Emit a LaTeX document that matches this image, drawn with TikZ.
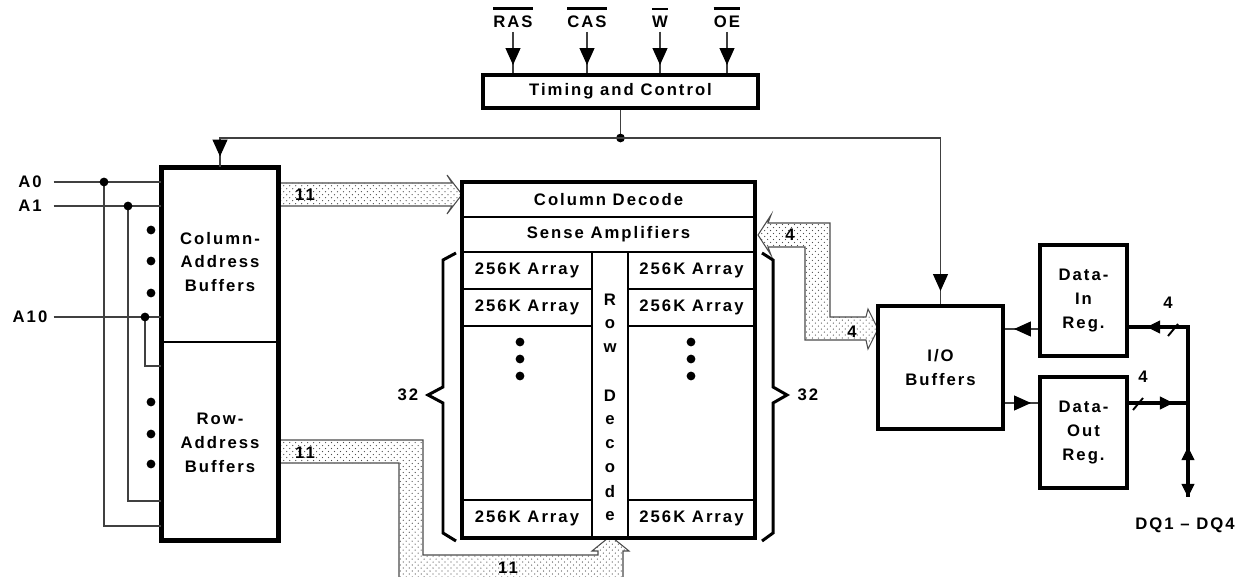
\documentclass[tikz,border=0pt]{standalone}
\usepackage{fontspec}
\setmainfont{Liberation Sans}[LetterSpace=12]
\usetikzlibrary{arrows.meta,patterns,decorations.markings}

\pgfdeclarepatternformonly{fdots}{\pgfqpoint{-0.5pt}{-0.5pt}}{\pgfqpoint{3.9pt}{3.9pt}}{\pgfqpoint{3.4pt}{3.4pt}}{%
  \pgfpathcircle{\pgfqpoint{0pt}{0pt}}{0.36pt}%
  \pgfpathcircle{\pgfqpoint{1.7pt}{1.7pt}}{0.36pt}%
  \pgfusepath{fill}}

\tikzset{
  blk/.style={draw, line width=2.3pt, fill=white, align=center, inner sep=0pt},
  cell/.style={draw, line width=0.6pt, align=center, inner sep=0pt},
  sig/.style={draw=black!75, line width=0.6pt},
  bus/.style={draw=black!70, line width=0.6pt, pattern=fdots, pattern color=black!70},
  dbus/.style={line width=2.3pt, line cap=butt},
  brc/.style={line width=1.7pt, line join=miter},
  sigtip/.tip={Triangle[length=9.6pt,width=8.5pt,color=black]},
  bustip/.tip={Triangle[length=7.5pt,width=7.5pt,color=black]},
  midtip/.style={postaction={decorate,decoration={markings,mark=at position #1 with {\arrow{sigtip}}}}},
  midbus/.style={postaction={decorate,decoration={markings,mark=at position #1 with {\arrow{bustip}}}}},
}

\begin{document}
\begin{tikzpicture}[x=0.02cm, y=-0.02cm, font=\fontsize{9.5}{13.6}\selectfont\bfseries, line join=miter]
	\useasboundingbox (0,0) rectangle (1237,577);
	\clip (0,0) rectangle (1237,577);
	
	% --- Bus ---
	\draw[bus] (278,183)--(452,183)--(447,175)--(462,194.5)--(447,214)--(452,206)--(278,206)--cycle;
	\node (c11) at (305,195) {11};
	\draw[bus] (278,440)--(423,440)--(423,555)--(598,555)--(598,551)--(592,551)--(610.5,536)--(629,551)--(623,551)--(623,580)--(399,580)--(399,463)--(278,463)--cycle;
	\node (r11a) at (305,453) {11};
	\node (r11b) at (508,568) {11};
	\draw[bus] (758,235)--(771,215)--(768,223)--(830,223)--(830,317)--(866,317)--(868,309)--(878,329)--(868,349)--(866,340)--(805,340)--(805,247)--(768,247)--(771,255)--cycle;
	\node (s4a) at (790,235) {4};
	\node (s4b) at (852,332) {4};
	
	% --- Timing and Control ---
	\node[blk, minimum width=5.5cm, minimum height=0.66cm] (tc) at (620.5,91.5) {Timing and Control};
	\foreach \s/\xx/\nm in {RAS/513/ras, CAS/587/cas, W/660/w, OE/727/oe} {
		\node[inner sep=2pt] (\nm) at (\xx,22) {\s};
		\draw[line width=1.5pt] ([xshift=2pt,yshift=2pt]\nm.north west)--([xshift=-2pt,yshift=2pt]\nm.north east);
		\draw[sig, midtip=-0.16cm] (\nm.south)--(\nm.south |- tc.north);
	}
	
	% --- Address buffers ---
	\node[cell, minimum width=2.32cm, minimum height=3.48cm] (cab) at (220,255) {};
	\node[cell, minimum width=2.32cm, minimum height=3.96cm] (rab) at (220,441) {};
	\draw[line width=2.3pt] (cab.north west) rectangle (rab.south east);
	\node[align=center] (cabt) at (220,262) {Column-\\Address\\Buffers};
	\node[align=center] (rabt) at (220,443) {Row-\\Address\\Buffers};
	
	\node (a0) at (30,182) {A0};
	\node (a1) at (30,206) {A1};
	\node (a10) at (30,317) {A10};
	\foreach \a in {a0,a1,a10}
		\draw[sig] (a10.east |- \a)--(\a -| cab.west);
	
	\coordinate (j0) at (104,182);
	\coordinate (j1) at (128,206);
	\coordinate (j10) at (145,317);
	\coordinate (e0) at (0,526);
	\coordinate (e1) at (0,501);
	\coordinate (e10) at (0,366);
	\draw[sig] (j0) |- (rab.west |- e0);
	\draw[sig] (j1) |- (rab.west |- e1);
	\draw[sig] (j10) |- (cab.west |- e10);
	\foreach \j in {j0,j1,j10} \fill (\j) circle (2.5pt);
	\foreach \yy in {230,261,293,402,434,464} \fill (151,\yy) circle (2.5pt);
	
	% --- Memory array ---
	\node[blk, minimum width=5.86cm, minimum height=7.12cm] (arr) at (608.5,360) {};
	\node[cell, minimum width=5.86cm, minimum height=0.7cm] (cd) at (608.5,199.5) {Column Decode};
	\node[cell, minimum width=5.86cm, minimum height=0.7cm] (sa) at (608.5,234.5) {Sense Amplifiers};
	\node[cell, minimum width=0.72cm, minimum height=5.72cm] (rd) at (610,395) {};
	\foreach \yy/\nm in {270.5/1, 307.5/2, 518.5/3} {
		\node[cell, minimum width=2.6cm, minimum height=0.74cm] (l\nm) at (527,\yy) {256K Array};
		\node[cell, minimum width=2.54cm, minimum height=0.74cm] (r\nm) at (691.5,\yy) {256K Array};
	}
	\foreach \ch [count=\i from 0] in {R,o,w,{},D,e,c,o,d,e}
		\node (rd\i) at (610,{300+24*\i}) {\ch};
	\foreach \yy in {342,359,376} {
		\fill (520,\yy) circle (2.5pt);
		\fill (691,\yy) circle (2.5pt);
	}
	
	% --- Braces ---
	\draw[brc] (456,253)--(443,260)--(443,387)--(428,395)--(443,403)--(443,533)--(456,541);
	\draw[brc] (762,253)--(773,260)--(773,387)--(787,395)--(773,403)--(773,533)--(762,541);
	\node (n32l) at (408,395) {32};
	\node (n32r) at (808,395) {32};
	
	% --- I/O ---
	\node[blk, minimum width=2.5cm, minimum height=2.46cm] (iob) at (940.5,367.5) {I/O\\Buffers};
	\node[blk, minimum width=1.74cm, minimum height=2.22cm] (din) at (1083.5,300.5) {Data-\\In\\Reg.};
	\node[blk, minimum width=1.74cm, minimum height=2.22cm] (dout) at (1083.5,432.5) {Data-\\Out\\Reg.};
	
	% --- Control line ---
	\coordinate (ctl) at (620.5,138);
	\draw[sig] (tc.south)--(ctl);
	\fill (ctl) circle (2.5pt);
	\draw[sig, midtip=-0.22cm] (ctl) -| (cab.north);
	\draw[sig, midtip=-0.26cm] (ctl) -| (iob.north);
	
	\coordinate (yin) at (0,329);
	\coordinate (yout) at (0,403);
	\draw[sig, midtip=-0.18cm] (din.west |- yin)--(iob.east |- yin);
	\draw[sig, midtip=-0.14cm] (iob.east |- yout)--(dout.west |- yout);
	
	% --- Data bus ---
	\coordinate (jin) at (1188,327);
	\coordinate (jout) at (1188,403);
	\coordinate (dq) at (1188,497);
	\draw[dbus] (din.east |- jin)--(jin)--(dq);
	\draw[dbus] (dout.east |- jout)--(jout);
	\path[midbus=-0.36cm] (jin)--(din.east |- jin);
	\path[midbus=-0.3cm] (dout.east |- jout)--(jout);
	\path[midbus=1] (jin)--(dq);
	\path[midbus=1cm] (dq)--(jout);
	\draw[line width=1.1pt] (1168,336)--(1178,324);
	\draw[line width=1.1pt] (1133,410)--(1143,398);
	\node (d4a) at (1168,303) {4};
	\node (d4b) at (1143,377) {4};
	\node (dql) at (1185,525) {DQ1 – DQ4};
\end{tikzpicture}
\end{document}
